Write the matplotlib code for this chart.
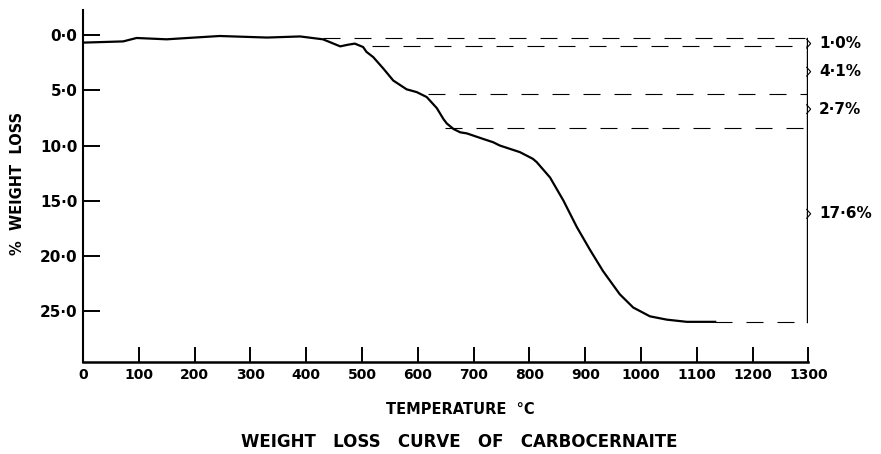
import matplotlib
matplotlib.use("Agg")
import matplotlib.pyplot as plt

plt.rcParams['font.family'] = ['DejaVu Sans']

# weight loss curve
temp = [0, 40, 72, 96, 150, 200, 245, 330, 389, 430, 461, 475, 487, 502, 508,
        520, 538, 556, 568, 580, 598, 616, 634, 646, 652, 664, 676, 688, 717,
        735, 747, 783, 806, 813, 837, 861, 885, 909, 932, 962, 986, 1016, 1046,
        1082, 1103, 1133]
loss = [0.66, 0.6, 0.55, 0.24, 0.36, 0.2, 0.06, 0.2, 0.1, 0.36, 1.0, 0.85, 0.75,
        1.06, 1.5, 1.97, 3.0, 4.1, 4.5, 4.9, 5.15, 5.6, 6.6, 7.6, 8.0, 8.5, 8.8,
        8.9, 9.4, 9.7, 10.0, 10.6, 11.2, 11.5, 12.9, 15.0, 17.4, 19.5, 21.4,
        23.5, 24.7, 25.5, 25.8, 26.0, 26.0, 26.0]

# dashed reference levels: start temperature and level
step_start = [430, 518, 618, 649, 1133]
step_level = [0.2, 0.94, 5.36, 8.4, 26.0]
step_end = 1297

step_labels = ["1·0%", "4·1%", "2·7%", "17·6%"]
label_pos = [0.75, 3.3, 6.7, 16.2]

xticks = list(range(0, 1400, 100))
xlabels = ["0"] + [str(t) for t in xticks[1:]]
yticks = [0, 5, 10, 15, 20, 25]
ylabels = ["0·0", "5·0", "10·0", "15·0", "20·0", "25·0"]

fig = plt.figure(figsize=(8.81, 4.54), dpi=100)
ax = fig.add_axes([83 / 881, 1 - 361.5 / 454, 725.4 / 881, 351.5 / 454])

ax.plot(temp, loss, color="black", lw=1.6)

for s, lev in zip(step_start, step_level):
    ax.plot([s, step_end], [lev, lev], color="black", lw=0.8,
            dashes=(15.3, 12.6))
ax.plot([step_end, step_end], [step_level[0], step_level[-1]],
        color="black", lw=1.0)

for txt, pos in zip(step_labels, label_pos):
    ax.plot([step_end, step_end + 7, step_end], [pos - 0.4, pos, pos + 0.4],
            color="black", lw=0.8, clip_on=False)
    ax.text(1319, pos, txt, fontsize=11, fontweight="bold", va="center",
            ha="left")

ax.set_xlim(0, 1300)
ax.set_ylim(29.6, -2.3)
ax.set_xticks(xticks)
ax.set_xticklabels(xlabels)
ax.set_yticks(yticks)
ax.set_yticklabels(ylabels)
ax.tick_params(axis="both", direction="in", width=1.4)
ax.tick_params(axis="y", length=12, pad=4, labelsize=11)
ax.tick_params(axis="x", length=11, pad=5, labelsize=10)
for lab in ax.get_xticklabels() + ax.get_yticklabels():
    lab.set_fontweight("bold")

ax.spines["top"].set_visible(False)
ax.spines["right"].set_visible(False)
ax.spines["left"].set_linewidth(1.5)
ax.spines["bottom"].set_linewidth(1.8)

fig.text(18 / 881, 1 - 183 / 454, "%  WEIGHT  LOSS", rotation=90,
         fontsize=10.5, fontweight="bold", ha="center", va="center")
fig.text(460 / 881, 1 - 409 / 454, "TEMPERATURE  °C", fontsize=10.5,
         fontweight="bold", ha="center", va="center")
fig.text(459 / 881, 1 - 442 / 454, "WEIGHT   LOSS   CURVE   OF   CARBOCERNAITE",
         fontsize=12, fontweight="bold", ha="center", va="center")

fig.savefig("out.png", dpi=100)
